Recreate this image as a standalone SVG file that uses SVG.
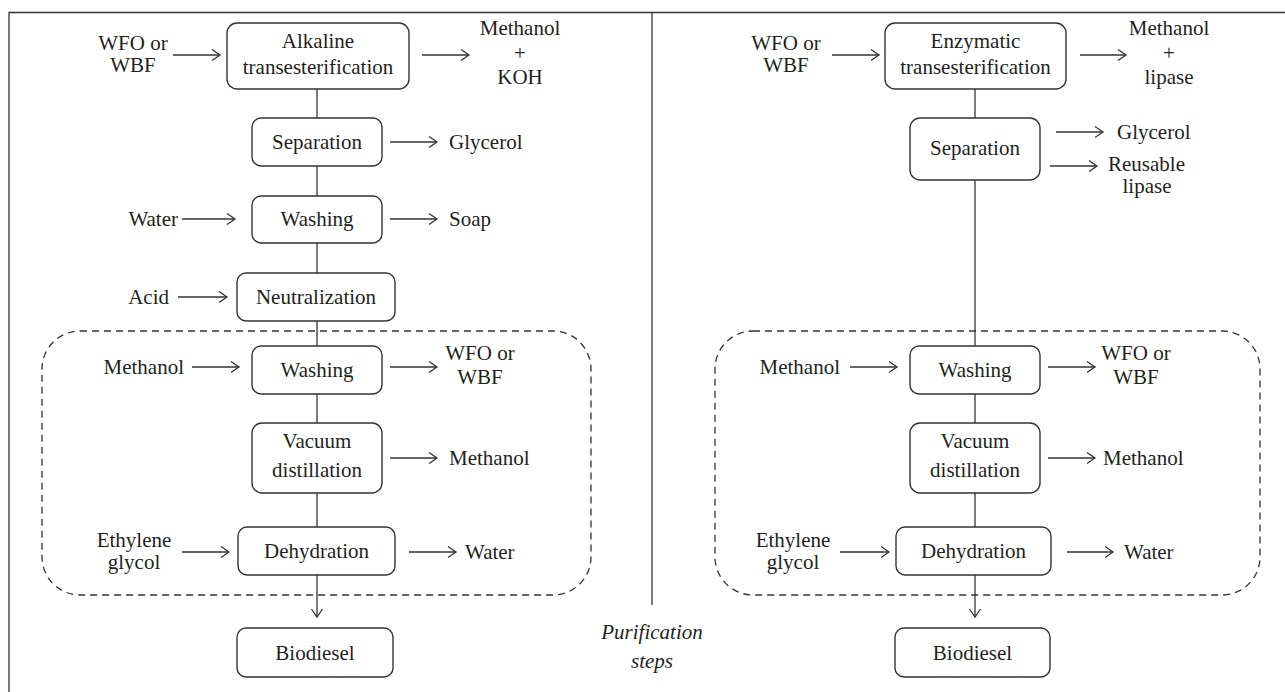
<svg xmlns="http://www.w3.org/2000/svg" width="1285" height="692" viewBox="0 0 1285 692">
<defs>
<style>
.box{fill:#fff;stroke:#333;stroke-width:1.4}
.ln{fill:none;stroke:#333;stroke-width:1.3}
.ar{fill:none;stroke:#333;stroke-width:1.3;marker-end:url(#ah)}
.dash{fill:none;stroke:#333;stroke-width:1.3;stroke-dasharray:7 5}
text{font-family:"Liberation Serif","Times New Roman",serif;font-size:21px;fill:#231f20}
.c{text-anchor:middle}
.e{text-anchor:end}
.it{font-style:italic}
</style>
<marker id="ah" viewBox="-10 -7 12 14" refX="0" refY="0" markerWidth="12" markerHeight="14" markerUnits="userSpaceOnUse" orient="auto">
<path d="M-8,-5.5 L0,0 L-8,5.5" fill="none" stroke="#333" stroke-width="1.3"/>
</marker>
</defs>
<rect width="1285" height="692" fill="#fff"/>
<g id="frame">
<path class="ln" d="M9,692 V12.5 H1285"/>
<path class="ln" d="M652,12.5 V605"/>
</g>
<g id="connectors">
<!-- left panel -->
<path class="ar" d="M173,55 H220"/>
<path class="ar" d="M422,55 H469"/>
<path class="ln" d="M317,89 V118"/>
<path class="ar" d="M390,142 H437"/>
<path class="ln" d="M317,166 V196"/>
<path class="ar" d="M182,219 H235"/>
<path class="ar" d="M390,219 H437"/>
<path class="ln" d="M317,243 V273"/>
<path class="ar" d="M178,297 H227"/>
<path class="ln" d="M317,321 V346"/>
<path class="ar" d="M192,367 H239"/>
<path class="ar" d="M390,367 H437"/>
<path class="ln" d="M317,394 V423"/>
<path class="ar" d="M390,458 H437"/>
<path class="ln" d="M317,493 V527"/>
<path class="ar" d="M182,552 H229"/>
<path class="ar" d="M409,552 H456"/>
<path class="ar" d="M317,575 V617"/>
<!-- right panel -->
<path class="ar" d="M832,55 H879"/>
<path class="ar" d="M1080,55 H1126"/>
<path class="ln" d="M975,89 V118"/>
<path class="ar" d="M1056,132 H1103"/>
<path class="ar" d="M1050,166 H1097"/>
<path class="ln" d="M975,180 V346"/>
<path class="ar" d="M850,367 H897"/>
<path class="ar" d="M1048,367 H1095"/>
<path class="ln" d="M975,394 V423"/>
<path class="ar" d="M1048,458 H1095"/>
<path class="ln" d="M975,493 V527"/>
<path class="ar" d="M840,552 H889"/>
<path class="ar" d="M1067,552 H1113"/>
<path class="ar" d="M975,575 V617"/>
</g>
<g id="purification-left"><rect class="dash" x="42" y="331" width="549" height="264" rx="38"/></g>
<g id="purification-right"><rect class="dash" x="715" y="331" width="545" height="264" rx="38"/></g>
<g id="left-labels">
<text class="c" x="133" y="50">WFO or</text><text class="c" x="133" y="72">WBF</text>
<text class="c" x="520" y="35">Methanol</text><text class="c" x="520" y="60">+</text><text class="c" x="520" y="84">KOH</text>
<text x="449" y="149">Glycerol</text>
<text class="e" x="178" y="226">Water</text>
<text x="449" y="226">Soap</text>
<text class="e" x="169" y="304">Acid</text>
<text class="e" x="184" y="374">Methanol</text>
<text class="c" x="480" y="360">WFO or</text><text class="c" x="480" y="384">WBF</text>
<text x="449" y="465">Methanol</text>
<text class="c" x="134" y="547">Ethylene</text><text class="c" x="134" y="569">glycol</text>
<text x="465" y="559">Water</text>
</g>
<g id="alkaline"><rect class="box" x="227" y="23" width="182" height="66" rx="10"/><text class="c" x="318" y="48">Alkaline</text><text class="c" x="318" y="74">transesterification</text></g>
<g id="separation-l"><rect class="box" x="252" y="118" width="130" height="48" rx="9"/><text class="c" x="317" y="149">Separation</text></g>
<g id="washing-l1"><rect class="box" x="252" y="196" width="130" height="47" rx="9"/><text class="c" x="317" y="226">Washing</text></g>
<g id="neutralization"><rect class="box" x="237" y="273" width="158" height="48" rx="9"/><text class="c" x="316" y="304">Neutralization</text></g>
<g id="washing-l2"><rect class="box" x="252" y="346" width="130" height="48" rx="9"/><text class="c" x="317" y="377">Washing</text></g>
<g id="vacuum-l"><rect class="box" x="252" y="423" width="130" height="70" rx="10"/><text class="c" x="317" y="448">Vacuum</text><text class="c" x="317" y="477">distillation</text></g>
<g id="dehydration-l"><rect class="box" x="238" y="527" width="157" height="48" rx="9"/><text class="c" x="316.5" y="558">Dehydration</text></g>
<g id="biodiesel-l"><rect class="box" x="237" y="628" width="156" height="49" rx="9"/><text class="c" x="315" y="660">Biodiesel</text></g>
<g id="right-labels">
<text class="c" x="786" y="50">WFO or</text><text class="c" x="786" y="72">WBF</text>
<text class="c" x="1169" y="35">Methanol</text><text class="c" x="1169" y="60">+</text><text class="c" x="1169" y="84">lipase</text>
<text x="1117" y="139">Glycerol</text>
<text x="1108" y="171">Reusable</text><text class="c" x="1147" y="193">lipase</text>
<text class="e" x="840" y="374">Methanol</text>
<text class="c" x="1136" y="360">WFO or</text><text class="c" x="1136" y="384">WBF</text>
<text x="1103" y="465">Methanol</text>
<text class="c" x="793" y="547">Ethylene</text><text class="c" x="793" y="569">glycol</text>
<text x="1124" y="559">Water</text>
</g>
<g id="enzymatic"><rect class="box" x="885" y="23" width="181" height="66" rx="10"/><text class="c" x="975.5" y="48">Enzymatic</text><text class="c" x="975.5" y="74">transesterification</text></g>
<g id="separation-r"><rect class="box" x="910" y="118" width="130" height="62" rx="10"/><text class="c" x="975" y="155">Separation</text></g>
<g id="washing-r"><rect class="box" x="910" y="346" width="130" height="48" rx="9"/><text class="c" x="975" y="377">Washing</text></g>
<g id="vacuum-r"><rect class="box" x="910" y="423" width="130" height="70" rx="10"/><text class="c" x="975" y="448">Vacuum</text><text class="c" x="975" y="477">distillation</text></g>
<g id="dehydration-r"><rect class="box" x="896" y="527" width="155" height="48" rx="9"/><text class="c" x="973.5" y="558">Dehydration</text></g>
<g id="biodiesel-r"><rect class="box" x="895" y="628" width="155" height="49" rx="9"/><text class="c" x="972.5" y="660">Biodiesel</text></g>
<g id="purification-label"><text class="c it" x="652" y="639">Purification</text><text class="c it" x="652" y="668">steps</text></g>
</svg>
